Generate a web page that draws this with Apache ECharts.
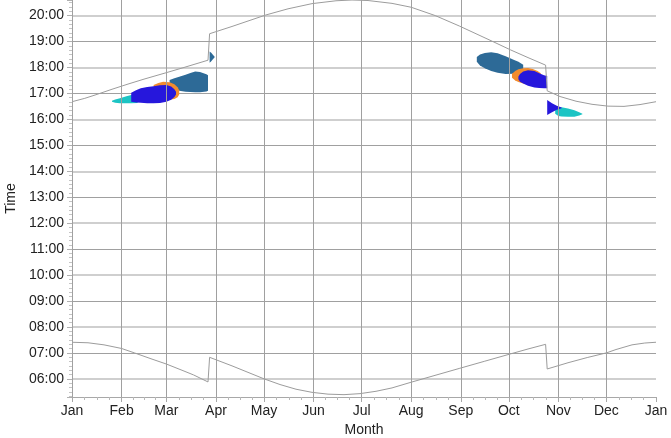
<!DOCTYPE html>
<html>
<head>
<meta charset="utf-8">
<script src="https://cdn.jsdelivr.net/npm/echarts@6/dist/echarts.min.js"></script>
<style>
  html, body { margin: 0; padding: 0; background: #fff; }
  #chart { width: 671px; height: 438px; }
</style>
</head>
<body>
<div id="chart"></div>
<script>
// Month tick labels
const monthLabels = ['Jan', 'Feb', 'Mar', 'Apr', 'May', 'Jun', 'Jul', 'Aug', 'Sep', 'Oct', 'Nov', 'Dec'];

// Sunrise (hours, local clock time incl. DST shifts)
const sunriseDates = ['2023-01-01', '2023-01-11', '2023-01-21', '2023-02-01', '2023-02-09', '2023-02-20',
  '2023-03-01', '2023-03-12', '2023-03-18', '2023-03-27', '2023-03-28', '2023-04-11', '2023-04-21',
  '2023-05-01', '2023-05-11', '2023-05-21', '2023-05-31', '2023-06-10', '2023-06-20', '2023-06-30',
  '2023-07-10', '2023-07-20', '2023-08-01', '2023-08-14', '2023-08-31', '2023-09-16', '2023-10-02',
  '2023-10-13', '2023-10-24', '2023-10-25', '2023-11-07', '2023-11-19', '2023-12-01', '2023-12-07',
  '2023-12-17', '2023-12-25', '2024-01-01'];
const sunriseTimes = [7.41, 7.39, 7.31, 7.17, 7.00, 6.76,
  6.57, 6.30, 6.15, 5.88, 6.83, 6.50, 6.25,
  6.00, 5.78, 5.60, 5.48, 5.41, 5.39, 5.43,
  5.52, 5.65, 5.87, 6.10, 6.40, 6.68, 6.96,
  7.15, 7.33, 6.38, 6.62, 6.82, 7.00, 7.13,
  7.31, 7.38, 7.41];

// Sunset (hours)
const sunsetDates = ['2023-01-01', '2023-01-09', '2023-01-16', '2023-01-26', '2023-02-05', '2023-02-15',
  '2023-03-01', '2023-03-12', '2023-03-27', '2023-03-28', '2023-04-11', '2023-04-21', '2023-05-02',
  '2023-05-16', '2023-05-31', '2023-06-15', '2023-06-25', '2023-07-05', '2023-07-20', '2023-08-01',
  '2023-08-16', '2023-08-31', '2023-09-21', '2023-10-02', '2023-10-13', '2023-10-24', '2023-10-25',
  '2023-11-02', '2023-11-12', '2023-11-22', '2023-12-02', '2023-12-12', '2023-12-22', '2024-01-01'];
const sunsetTimes = [16.68, 16.81, 16.95, 17.16, 17.36, 17.55,
  17.80, 18.00, 18.28, 19.30, 19.58, 19.79, 20.02,
  20.26, 20.46, 20.57, 20.60, 20.58, 20.47, 20.32,
  20.00, 19.60, 19.00, 18.68, 18.38, 18.09, 17.10,
  16.88, 16.70, 16.58, 16.51, 16.50, 16.57, 16.68];

// Glare periods: [date, start hour, end hour]
const steelSpring = [['2023-03-03', 17.20, 17.52], ['2023-03-06', 17.15, 17.58], ['2023-03-09', 17.10, 17.64],
  ['2023-03-13', 17.06, 17.72], ['2023-03-16', 17.05, 17.79], ['2023-03-19', 17.04, 17.84],
  ['2023-03-22', 17.04, 17.83], ['2023-03-26', 17.07, 17.74], ['2023-03-27', 17.10, 17.70]];
const steelSpringLate = [['2023-03-28', 18.18, 18.62], ['2023-03-29', 18.24, 18.57], ['2023-03-31', 18.38, 18.42]];
const steelAutumn = [['2023-09-11', 18.22, 18.40], ['2023-09-13', 18.08, 18.50], ['2023-09-16', 17.97, 18.56],
  ['2023-09-20', 17.86, 18.59], ['2023-09-24', 17.80, 18.55], ['2023-09-29', 17.75, 18.43],
  ['2023-10-04', 17.76, 18.30], ['2023-10-07', 17.80, 18.22], ['2023-10-10', 17.92, 18.10]];

const orangeSpring = [['2023-02-21', 16.95, 17.32], ['2023-02-24', 16.80, 17.40], ['2023-02-27', 16.75, 17.45],
  ['2023-03-03', 16.76, 17.43], ['2023-03-06', 16.78, 17.35], ['2023-03-08', 16.85, 17.24],
  ['2023-03-09', 16.96, 17.12]];
const orangeAutumn = [['2023-10-03', 17.60, 17.76], ['2023-10-05', 17.50, 17.86], ['2023-10-07', 17.44, 17.93],
  ['2023-10-10', 17.38, 17.97], ['2023-10-13', 17.33, 17.98], ['2023-10-16', 17.32, 17.94],
  ['2023-10-19', 17.36, 17.86], ['2023-10-21', 17.42, 17.78]];

const cyanSpring = [['2023-01-26', 16.68, 16.72], ['2023-01-28', 16.64, 16.77], ['2023-01-31', 16.62, 16.81],
  ['2023-02-04', 16.62, 16.89], ['2023-02-07', 16.62, 16.94], ['2023-02-11', 16.63, 16.98]];
const cyanAutumn = [['2023-10-30', 16.22, 16.36], ['2023-11-01', 16.13, 16.45], ['2023-11-03', 16.11, 16.47],
  ['2023-11-07', 16.10, 16.42], ['2023-11-11', 16.10, 16.35], ['2023-11-14', 16.15, 16.27],
  ['2023-11-16', 16.20, 16.22]];

const blueSpring = [['2023-02-07', 16.68, 17.03], ['2023-02-10', 16.65, 17.12], ['2023-02-13', 16.64, 17.20],
  ['2023-02-17', 16.62, 17.25], ['2023-02-21', 16.62, 17.28], ['2023-02-25', 16.63, 17.31],
  ['2023-03-01', 16.68, 17.32], ['2023-03-04', 16.76, 17.27], ['2023-03-06', 16.86, 17.16],
  ['2023-03-07', 16.96, 17.06]];
const blueAutumn = [['2023-10-07', 17.55, 17.65], ['2023-10-08', 17.45, 17.75], ['2023-10-10', 17.38, 17.84],
  ['2023-10-13', 17.30, 17.89], ['2023-10-17', 17.23, 17.86], ['2023-10-20', 17.21, 17.78],
  ['2023-10-23', 17.20, 17.70], ['2023-10-25', 17.20, 17.67]];
const blueAutumnLate = [['2023-10-25', 16.17, 16.75], ['2023-10-28', 16.27, 16.62], ['2023-10-31', 16.37, 16.52],
  ['2023-11-03', 16.43, 16.46]];

// Local-time timestamp for a YYYY-MM-DD string
function toTime(s) {
  const p = s.split('-').map(Number);
  return new Date(p[0], p[1] - 1, p[2]).getTime();
}
function pad(n) { return (n < 10 ? '0' : '') + n; }
function hourLabel(v) {
  if (Math.abs(v - Math.round(v)) > 1e-6) return '';
  return pad(Math.round(v)) + ':00';
}

function curveSeries(dates, times) {
  return {
    type: 'line',
    data: dates.map((d, i) => [toTime(d), times[i]]),
    symbol: 'none',
    lineStyle: { color: '#9c9c9c', width: 1 },
    silent: true,
    z: 2
  };
}

// Each blob is a closed polygon: start times forward, end times backward
function blobSeries(blobs, color, z) {
  return {
    type: 'custom',
    coordinateSystem: 'cartesian2d',
    data: blobs.map((b, i) => [toTime(b[0][0]), b[0][1], i]),
    encode: { x: 0, y: 1 },
    silent: true,
    z: z,
    renderItem: function (params, api) {
      const blob = blobs[params.dataIndex];
      const pts = [];
      for (let k = 0; k < blob.length; k++) pts.push(api.coord([toTime(blob[k][0]), blob[k][2]]));
      for (let k = blob.length - 1; k >= 0; k--) pts.push(api.coord([toTime(blob[k][0]), blob[k][1]]));
      return { type: 'polygon', shape: { points: pts }, style: { fill: color } };
    }
  };
}

const font = "'Liberation Sans', Arial, sans-serif";
const chart = echarts.init(document.getElementById('chart'), null, { renderer: 'canvas' });

const yMin = 5.3, yMax = 20.6;

chart.setOption({
  animation: false,
  backgroundColor: '#fff',
  grid: { left: 72, right: 15, top: 0, bottom: 41, containLabel: false, outerBoundsMode: 'none' },
  xAxis: {
    type: 'time',
    min: toTime('2023-01-01'),
    max: toTime('2024-01-01'),
    splitNumber: 12,
    minInterval: 28 * 86400000,
    maxInterval: 31 * 86400000,
    z: 3,
    name: 'Month',
    nameLocation: 'middle',
    nameGap: 18,
    nameTextStyle: { color: '#222', fontSize: 14, fontFamily: font },
    axisLine: { show: true, lineStyle: { color: '#a8a8a8', width: 1 } },
    axisTick: { show: true, length: 5, lineStyle: { color: '#a8a8a8' } },
    minorTick: { show: true, splitNumber: 4, length: 3, lineStyle: { color: '#b8b8b8' } },
    axisLabel: {
      color: '#222', fontSize: 14, fontFamily: font, margin: 7,
      formatter: function (v) { return monthLabels[new Date(v).getMonth()]; },
      showMinLabel: true, showMaxLabel: true, hideOverlap: false
    },
    splitLine: { show: true, showMinLine: false, showMaxLine: false, lineStyle: { color: '#a0a0a0', width: 1 } }
  },
  yAxis: [{
    type: 'value',
    min: yMin,
    max: yMax,
    splitNumber: 15,
    name: 'Time',
    nameLocation: 'middle',
    nameGap: 47,
    nameTextStyle: { color: '#222', fontSize: 14, fontFamily: font },
    axisLine: { show: true, lineStyle: { color: '#b8b8b8', width: 1 } },
    axisTick: { show: true, length: 5, lineStyle: { color: '#b0b0b0' } },
    minorTick: { show: true, splitNumber: 6, length: 3, lineStyle: { color: '#c4c4c4' } },
    axisLabel: { color: '#222', fontSize: 14, fontFamily: font, margin: 8, formatter: hourLabel },
    splitLine: { show: true, showMinLine: false, showMaxLine: false, lineStyle: { color: '#a0a0a0', width: 1 } }
  }, {
    // overlay axis: broader, lighter lines on the even hours
    type: 'value',
    min: yMin,
    max: yMax,
    splitNumber: 7,
    position: 'left',
    z: 1,
    axisLine: { show: false },
    axisTick: { show: false },
    axisLabel: { show: false },
    splitLine: { show: true, showMinLine: false, showMaxLine: false, lineStyle: { color: '#cfcfcf', width: 2 } }
  }],
  series: [
    curveSeries(sunriseDates, sunriseTimes),
    curveSeries(sunsetDates, sunsetTimes),
    blobSeries([steelSpring, steelSpringLate, steelAutumn], '#2d6a97', 2),
    blobSeries([orangeSpring, orangeAutumn], '#f28c2e', 2),
    blobSeries([cyanSpring, cyanAutumn], '#1cc4c4', 2),
    blobSeries([blueSpring, blueAutumn, blueAutumnLate], '#2617dc', 2)
  ]
});
</script>
</body>
</html>
